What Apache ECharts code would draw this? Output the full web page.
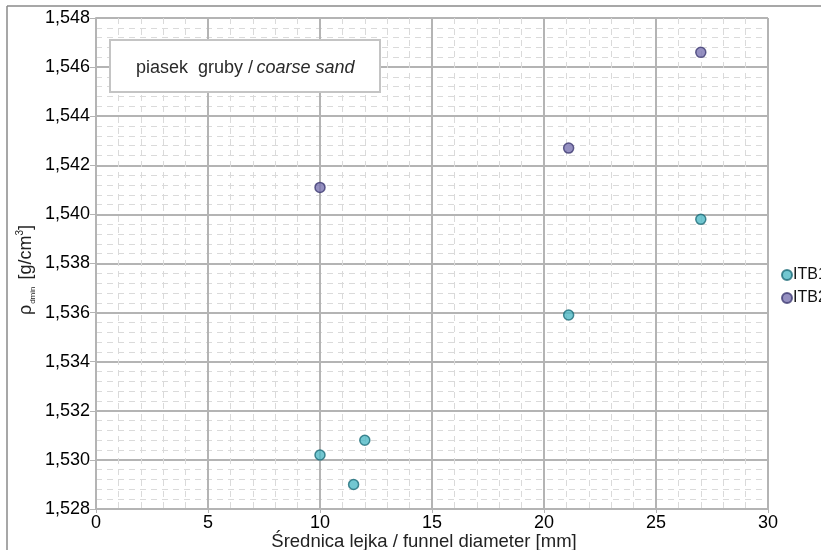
<!DOCTYPE html>
<html>
<head>
<meta charset="utf-8">
<script src="https://cdn.jsdelivr.net/npm/echarts@6/dist/echarts.min.js"></script>
<style>
  html, body { margin: 0; padding: 0; background: #fff; }
  #chart { width: 821px; height: 550px; }
</style>
</head>
<body>
<div id="chart"></div>
<script>
// Funnel diameter [mm] and minimum density [g/cm3] per series
const diametersITB1 = [10, 11.5, 12, 21.1, 27];
const densityITB1   = [1.5302, 1.5290, 1.5308, 1.5359, 1.5398];
const diametersITB2 = [10, 21.1, 27];
const densityITB2   = [1.5411, 1.5427, 1.5466];
const seriesNames   = ['ITB1', 'ITB2'];

const xTicks = { min: 0, max: 30, interval: 5 };
const yTicks = { min: 1.528, max: 1.548, interval: 0.002 };

const chart = echarts.init(document.getElementById('chart'), null, { renderer: 'canvas' });

const pairs = (xs, ys) => xs.map((x, i) => [x, ys[i]]);
const fontFamily = 'Liberation Sans, Arial, sans-serif';
const majorGrid = { color: '#b4b4b4', width: 2 };
const minorGrid = { color: '#dadada', width: 1, type: [6, 5] };

chart.setOption({
  animation: false,
  backgroundColor: '#ffffff',
  textStyle: { fontFamily },
  grid: { left: 96, right: 53, top: 18, bottom: 41, outerBoundsMode: 'none', containLabel: false },
  legend: {
    orient: 'vertical',
    left: 776,
    top: 262,
    itemWidth: 10,
    itemHeight: 10,
    itemGap: 7,
    icon: 'circle',
    textStyle: { fontSize: 16, color: '#111', padding: [0, 0, 0, -4] },
    data: seriesNames
  },
  xAxis: {
    type: 'value',
    min: xTicks.min,
    max: xTicks.max,
    interval: xTicks.interval,
    name: 'Średnica lejka / funnel diameter [mm]',
    nameLocation: 'middle',
    nameGap: 23,
    nameMoveOverlap: false,
    nameTextStyle: { fontSize: 18.5, color: '#222', padding: [0, 16, 0, 0] },
    axisLine: { show: true, lineStyle: { color: '#b4b4b4', width: 2 } },
    axisTick: { show: true, length: 4, lineStyle: { color: '#b4b4b4' } },
    axisLabel: { fontSize: 18, color: '#000', margin: 5 },
    splitLine: { show: true, lineStyle: majorGrid },
    minorTick: { show: false, splitNumber: 5 },
    minorSplitLine: { show: true, lineStyle: minorGrid }
  },
  yAxis: {
    type: 'value',
    min: yTicks.min,
    max: yTicks.max,
    interval: yTicks.interval,
    name: 'ρ{sub|dmin} [g/cm{sup|3}]',
    nameLocation: 'middle',
    nameRotate: 90,
    nameGap: 59,
    nameMoveOverlap: false,
    nameTextStyle: {
      fontSize: 18, color: '#222', lineHeight: 22, padding: [0, 13, 0, 0],
      rich: {
        sub: { fontSize: 8, color: '#222', verticalAlign: 'bottom', lineHeight: 22, padding: [6, 2, 0, 1] },
        sup: { fontSize: 10, color: '#222', verticalAlign: 'top', lineHeight: 22, padding: [0, 0, 6, 0] }
      }
    },
    axisLine: { show: true, lineStyle: { color: '#b4b4b4', width: 2 } },
    axisTick: { show: true, length: 6, lineStyle: { color: '#b4b4b4' } },
    axisLabel: {
      fontSize: 18, color: '#000', margin: 6,
      formatter: v => v.toFixed(3).replace('.', ',')
    },
    splitLine: { show: true, lineStyle: majorGrid },
    minorTick: { show: false, splitNumber: 5 },
    minorSplitLine: { show: true, lineStyle: minorGrid }
  },
  series: [
    {
      name: seriesNames[0],
      type: 'scatter',
      symbol: 'circle',
      symbolSize: 10,
      itemStyle: { color: '#4fb9c6', borderColor: '#1d6c78', borderWidth: 1.5 },
      data: pairs(diametersITB1, densityITB1),
      z: 5
    },
    {
      name: seriesNames[1],
      type: 'scatter',
      symbol: 'circle',
      symbolSize: 10,
      itemStyle: { color: '#7a74b2', borderColor: '#3d3a72', borderWidth: 1.5 },
      data: pairs(diametersITB2, densityITB2),
      z: 5
    }
  ],
  graphic: [
    // outer frame (top and left edges)
    { type: 'line', shape: { x1: 7, y1: 6, x2: 821, y2: 6 }, style: { stroke: '#8a8a8a', lineWidth: 1.5 }, z: 10 },
    { type: 'line', shape: { x1: 7, y1: 6, x2: 7, y2: 550 }, style: { stroke: '#8a8a8a', lineWidth: 1.5 }, z: 10 },
    // sample description box
    {
      type: 'rect',
      shape: { x: 110, y: 40, width: 270, height: 52 },
      style: { fill: '#ffffff', stroke: '#c4c4c4', lineWidth: 2 },
      z: 10
    },
    {
      type: 'text',
      x: 136, y: 68,
      style: {
        text: '{r|piasek  gruby /} {i|coarse sand}',
        verticalAlign: 'middle',
        rich: {
          r: { fontSize: 18, fill: '#2a2a2a', fontFamily },
          i: { fontSize: 18, fill: '#2a2a2a', fontStyle: 'italic', fontFamily }
        }
      },
      z: 11
    }
  ]
});
</script>
</body>
</html>
